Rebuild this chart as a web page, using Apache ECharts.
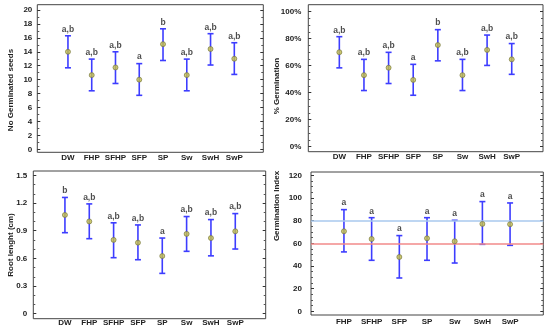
<!DOCTYPE html>
<html><head><meta charset="utf-8">
<script src="https://cdn.jsdelivr.net/npm/echarts@6/dist/echarts.min.js"></script>
<style>html,body{margin:0;padding:0;background:#fff}#c{width:550px;height:334px}</style>
</head><body><div id="c"></div>
<script>
const cats = ['DW','FHP','SFHP','SFP','SP','Sw','SwH','SwP'];
const catsGI = ['FHP','SFHP','SFP','SP','Sw','SwH','SwP'];

const seedsMean = [14.0, 10.65, 11.75, 10.0, 15.1, 10.65, 14.4, 13.0];
const seedsLow  = [11.7, 8.4, 9.45, 7.75, 12.75, 8.4, 12.1, 10.75];
const seedsHigh = [16.3, 12.95, 14.0, 12.3, 17.3, 12.95, 16.6, 15.3];
const seedsLetters = ['a,b','a,b','a,b','a','b','a,b','a,b','a,b'];

const pctMean = [70, 53, 58.5, 49.5, 75.3, 53, 71.7, 64.7];
const pctLow  = [58.4, 41.6, 46.8, 38.1, 63.6, 41.6, 60.2, 53.6];
const pctHigh = [81.5, 64.7, 69.9, 61.0, 86.7, 64.7, 82.7, 76.4];
const pctLetters = ['a,b','a,b','a,b','a','b','a,b','a,b','a,b'];

const rootMean = [1.07, 1.0, 0.8, 0.77, 0.625, 0.865, 0.82, 0.893];
const rootLow  = [0.878, 0.813, 0.607, 0.585, 0.437, 0.676, 0.627, 0.701];
const rootHigh = [1.26, 1.19, 0.985, 0.962, 0.82, 1.053, 1.02, 1.085];
const rootLetters = ['b','a,b','a,b','a,b','a','a,b','a,b','a,b'];

const giMean = [70.6, 63.8, 47.9, 64.4, 61.8, 77.1, 76.8];
const giLow  = [52.4, 45.0, 29.4, 45.0, 42.6, 59.1, 58.2];
const giHigh = [89.7, 82.6, 66.8, 82.6, 80.3, 96.8, 95.6];
const giLetters = ['a','a','a','a','a','a','a'];
const giRefBlue = 80;
const giRefRed = 60;

const FONT = 'Liberation Sans';
const TXT = '#222';
const BAR = '#3d3dff';

const option = {
  backgroundColor: '#fff',
  animation: false,
  grid: [], xAxis: [], yAxis: [], series: [], graphic: []
};

function addPanel(p) {
  const g0 = option.grid.length;
  option.grid.push({left: p.left, right: p.right, top: p.frameTop, bottom: p.frameBottom,
    show: true, borderColor: '#444', borderWidth: 1, backgroundColor: 'transparent'});
  option.grid.push({left: p.left, right: p.right, top: p.dataTop, bottom: p.dataBottom});
  const xf = option.xAxis.length;
  option.xAxis.push({gridIndex: g0, type: 'value', show: false, min: 0, max: 1});
  option.xAxis.push({gridIndex: g0 + 1, type: 'value', min: p.xMin, max: p.xMax,
    axisLine: {show: false, onZero: false}, axisTick: {show: false}, splitLine: {show: false},
    axisLabel: {customValues: p.cats.map((c, i) => i), formatter: v => p.cats[Math.round(v)],
      fontFamily: FONT, fontSize: 8, fontWeight: 'bold', color: TXT, margin: p.xMargin}});
  const yf = option.yAxis.length;
  option.yAxis.push({gridIndex: g0, type: 'value', show: false, min: 0, max: 1});
  const yCommon = {gridIndex: g0 + 1, type: 'value', min: p.yMin, max: p.yMax, interval: p.yInterval,
    axisLine: {show: false, onZero: false}, splitLine: {show: false},
    axisTick: {show: true, inside: true, length: 3, lineStyle: {color: '#333'}},
    minorTick: {show: true, splitNumber: p.minorSplit, length: 2, lineStyle: {color: '#555'}}};
  option.yAxis.push(Object.assign({}, yCommon, {position: 'left',
    axisLabel: {fontFamily: FONT, fontSize: 8, fontWeight: 'bold', color: TXT, margin: p.yMargin,
      formatter: p.yFormatter}}));
  option.yAxis.push(Object.assign({}, yCommon, {position: 'right', axisLabel: {show: false}}));
  const xi = xf + 1, yi = yf + 1;

  option.series.push({
    type: 'custom', xAxisIndex: xi, yAxisIndex: yi, clip: false,
    data: p.cats.map((c, i) => [i, p.low[i], p.high[i]]),
    encode: {x: 0, y: [1, 2]},
    renderItem: (params, api) => {
      const x = api.value(0);
      const lo = api.coord([x, api.value(1)]);
      const hi = api.coord([x, api.value(2)]);
      const w = 3;
      const style = {stroke: BAR, lineWidth: 1.6};
      return {type: 'group', children: [
        {type: 'line', shape: {x1: lo[0], y1: lo[1], x2: hi[0], y2: hi[1]}, style},
        {type: 'line', shape: {x1: lo[0] - w, y1: lo[1], x2: lo[0] + w, y2: lo[1]}, style},
        {type: 'line', shape: {x1: hi[0] - w, y1: hi[1], x2: hi[0] + w, y2: hi[1]}, style}
      ]};
    }
  });
  const meanSeries = {
    type: 'scatter', xAxisIndex: xi, yAxisIndex: yi, symbol: 'circle', symbolSize: 5,
    itemStyle: {color: '#c4bf4a', borderColor: '#6f6f3a', borderWidth: 0.8},
    data: p.mean.map((v, i) => [i, v]), z: 5
  };
  if (p.refLines) {
    meanSeries.markLine = {silent: true, symbol: 'none', label: {show: false},
      data: p.refLines.map(r => ({yAxis: r.value, lineStyle: {color: r.color, width: 1.5, type: 'solid'}}))};
  }
  option.series.push(meanSeries);
  option.series.push({
    type: 'scatter', xAxisIndex: xi, yAxisIndex: yi, symbolSize: 0,
    data: p.high.map((v, i) => [i, v]),
    label: {show: true, position: 'top', distance: 2, formatter: prm => p.letters[prm.dataIndex],
      fontFamily: FONT, fontSize: 8.5, fontWeight: 'bold', color: TXT}
  });
  option.graphic.push({type: 'text', x: p.nameX, y: p.nameY, rotation: Math.PI / 2,
    style: {text: p.name, fontFamily: FONT, fontSize: 8, fontWeight: 'bold', fill: TXT,
      align: 'center', verticalAlign: 'middle'}});
}

addPanel({cats: cats, mean: seedsMean, low: seedsLow, high: seedsHigh, letters: seedsLetters,
  left: 37.3, right: 286.7, frameTop: 4.7, frameBottom: 181.7, dataTop: 10, dataBottom: 184.7,
  xMin: -1.29, xMax: 8.22, xMargin: 4.5, yMin: 0, yMax: 20, yInterval: 2, minorSplit: 2, yMargin: 5,
  name: 'No Germinated seeds', nameX: 11, nameY: 90});

addPanel({cats: cats, mean: pctMean, low: pctLow, high: pctHigh, letters: pctLetters,
  left: 308.3, right: 7, frameTop: 4.7, frameBottom: 182.3, dataTop: 11.7, dataBottom: 187.3,
  xMin: -1.26, xMax: 8.27, xMargin: 6.5, yMin: 0, yMax: 100, yInterval: 20, minorSplit: 4, yMargin: 7,
  yFormatter: '{value}%', name: '% Germination', nameX: 277, nameY: 86});

addPanel({cats: cats, mean: rootMean, low: rootLow, high: rootHigh, letters: rootLetters,
  left: 33.3, right: 284.3, frameTop: 171, frameBottom: 15.3, dataTop: 175.3, dataBottom: 20.3,
  xMin: -1.3, xMax: 8.25, xMargin: 5, yMin: 0, yMax: 1.5, yInterval: 0.3, minorSplit: 3, yMargin: 6,
  name: 'Root lenght (cm)', nameX: 11, nameY: 245});

addPanel({cats: catsGI, mean: giMean, low: giLow, high: giHigh, letters: giLetters,
  left: 311, right: 6.7, frameTop: 172, frameBottom: 19, dataTop: 175.3, dataBottom: 22.7,
  xMin: -1.19, xMax: 7.2, xMargin: 6.5, yMin: 0, yMax: 120, yInterval: 20, minorSplit: 4, yMargin: 9,
  name: 'Germination Index', nameX: 277, nameY: 206,
  refLines: [{value: giRefBlue, color: '#a9c8ee'}, {value: giRefRed, color: '#f28a8a'}]});

const chart = echarts.init(document.getElementById('c'), null, {renderer: 'canvas'});
chart.setOption(option);
</script></body></html>
